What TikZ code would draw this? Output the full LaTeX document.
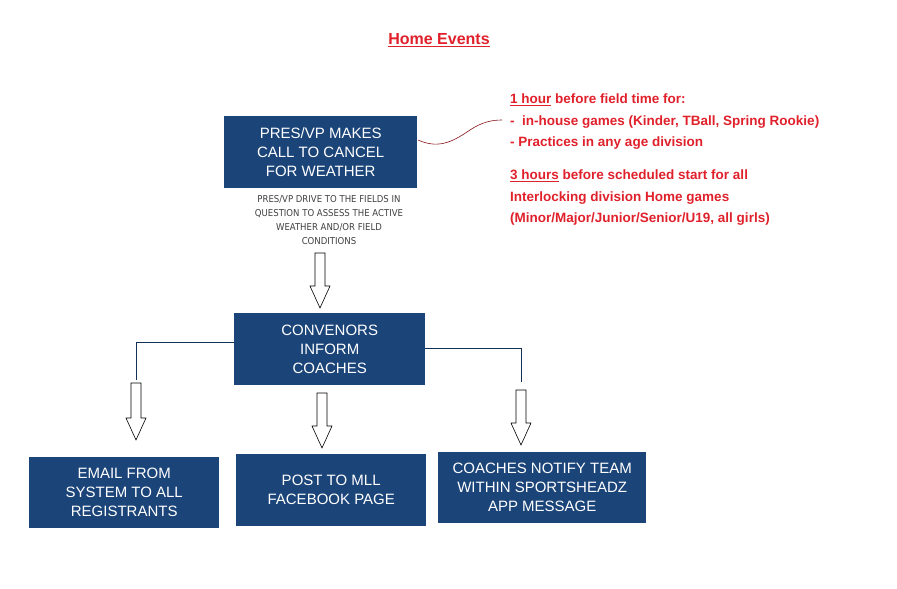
\documentclass[tikz,border=0pt]{standalone}
\usepackage{fontspec}
\setmainfont{Liberation Sans}
\newfontfamily\dvc{DejaVu Sans Condensed}
\definecolor{navy}{HTML}{1B4479}
\definecolor{redt}{HTML}{E0202A}
\begin{document}
\begin{tikzpicture}[x=1pt,y=-1pt,
  box/.style={fill=navy,text=white,align=center,font=\fontsize{15}{19}\selectfont,inner sep=0pt,anchor=north west},
  rt/.style={text=redt,font=\bfseries\fontsize{13.5}{16}\selectfont,anchor=west,inner sep=0pt},
  link/.style={draw=navy!70!black,line width=0.6pt}]
\useasboundingbox (0,0) rectangle (897,589);
\newcommand\harrow[3]{\draw[line width=0.6pt,fill=white] (#1-5,#2) -- (#1+5,#2) -- (#1+5,#3-22) -- (#1+10,#3-22) -- (#1,#3) -- (#1-10,#3-22) -- (#1-5,#3-22) -- cycle;}
\node[text=redt,font=\bfseries\fontsize{16}{18}\selectfont,inner sep=0pt] (title) at (439,40) {\underline{Home Events}};
\node[box,minimum width=193,minimum height=72] (pres) at (224,116) {PRES/VP MAKES\\CALL TO CANCEL\\FOR WEATHER};
\node[align=center,font=\dvc\fontsize{9.5}{14}\selectfont,text=black!75,inner sep=0pt] (drive) at (329,220) {PRES/VP DRIVE TO THE FIELDS IN\\QUESTION TO ASSESS THE ACTIVE\\WEATHER AND/OR FIELD\\CONDITIONS};
\node[box,minimum width=191,minimum height=72] (conv) at (234,313) {CONVENORS\\INFORM\\COACHES};
\node[box,minimum width=190,minimum height=71] (email) at (29,457) {EMAIL FROM\\SYSTEM TO ALL\\REGISTRANTS};
\node[box,minimum width=190,minimum height=72] (post) at (236,454) {POST TO MLL\\FACEBOOK PAGE};
\node[box,minimum width=208,minimum height=71] (coach) at (438,452) {COACHES NOTIFY TEAM\\WITHIN SPORTSHEADZ\\APP MESSAGE};
\harrow{320}{253}{308}
\harrow{136}{383}{440}
\harrow{322}{393}{448}
\harrow{521}{390}{445}
\coordinate (lc) at (136,380);
\coordinate (rc) at (521,382);
\draw[link] (conv.west |- 0,342) -| (lc);
\draw[link] (conv.east |- 0,348) -| (rc);
\coordinate (cs) at (418,140);
\coordinate (ce) at (502,120);
\draw[line width=0.6pt,draw=redt!60!black] (cs) .. controls (440,150) and (455,140) .. (470,130) .. controls (482,122) and (492,120) .. (ce);
\node[rt] (l1) at (510,100) {\underline{1 hour}\ before field time for:};
\node[rt] (l2) at (510,122) {-\ \ in-house games (Kinder, TBall, Spring Rookie)};
\node[rt] (l3) at (510,143) {- Practices in any age division};
\node[rt] (l4) at (510,176) {\underline{3 hours}\ before scheduled start for all};
\node[rt] (l5) at (510,198) {Interlocking division Home games};
\node[rt] (l6) at (510,219) {(Minor/Major/Junior/Senior/U19, all girls)};
\end{tikzpicture}
\end{document}
